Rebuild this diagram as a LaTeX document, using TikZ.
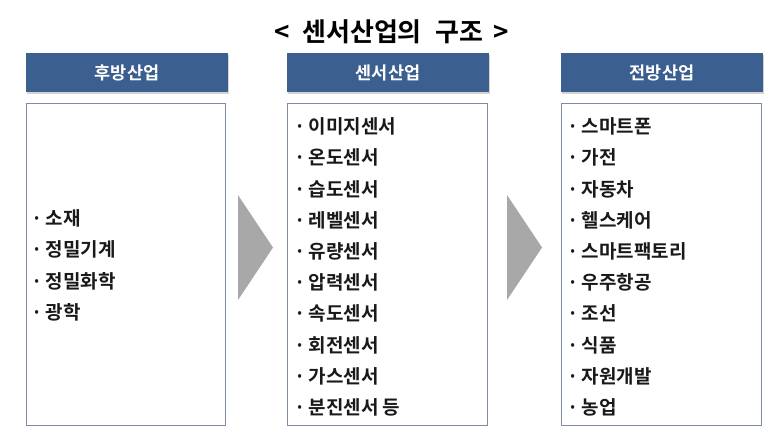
\documentclass[tikz,border=0pt]{standalone}
\usepackage{fontspec}
\setmainfont{Noto Sans CJK KR}[BoldFont={* Bold}]
\newfontfamily\krb{Noto Sans CJK KR Bold}
\usetikzlibrary{shadows}
\definecolor{hdr}{HTML}{3B5F8E}
\definecolor{bdr}{HTML}{7D8CA3}
\definecolor{arr}{HTML}{A8A8A8}
\tikzset{
  hdrbox/.style={fill=hdr, draw=none, minimum width=202pt, minimum height=39pt, inner sep=0pt,
    text=white, font=\krb\fontsize{17.5}{17.5}\selectfont, drop shadow={shadow xshift=1pt, shadow yshift=-1.5pt, opacity=0.35}},
  listbox/.style={draw=bdr, line width=0.8pt, fill=white, inner sep=0pt},
  item/.style={anchor=west, inner sep=0pt, font=\krb\fontsize{19}{19}\selectfont, text=black!90},
  arrowtri/.style={fill=arr, draw=none}
}
\begin{document}
\begin{tikzpicture}[x=1pt,y=-1pt]
\useasboundingbox (0,0) rectangle (780,440);
\node[font=\krb\fontsize{26}{26}\selectfont] (title) at (392,32) {<\hspace{12pt}센서산업의\hspace{14pt}구조\hspace{10pt}>};
% headers
\node[hdrbox] (h1) at (127,72.5) {후방산업};
\node[hdrbox] (h2) at (388,72.5) {센서산업};
\node[hdrbox] (h3) at (662,72.5) {전방산업};
% list boxes
\node[listbox, minimum width=199pt, minimum height=322pt] (b1) at (125.5,264) {};
\node[listbox, minimum width=200pt, minimum height=322pt] (b2) at (387,264) {};
\node[listbox, minimum width=200pt, minimum height=322pt] (b3) at (661,264) {};
% arrows
\coordinate (a1t) at (238,195); \coordinate (a1b) at (238,300); \coordinate (a1p) at (273,247.5);
\fill[arrowtri] (a1t) -- (a1p) -- (a1b) -- cycle;
\coordinate (a2t) at (507,195); \coordinate (a2b) at (507,300); \coordinate (a2p) at (542,247.5);
\fill[arrowtri] (a2t) -- (a2p) -- (a2b) -- cycle;
% left items
\foreach \t [count=\i] in {소재,정밀기계,정밀화학,광학}{
  \node[item] (l\i) at (31,{218+31.5*(\i-1)}) {·\,\t};
}
% middle items
\foreach \t [count=\i] in {이미지센서,온도센서,습도센서,레벨센서,유량센서,압력센서,속도센서,회전센서,가스센서,분진센서 등}{
  \node[item] (m\i) at (294,{126.5+31.2*(\i-1)}) {·\,\t};
}
% right items
\foreach \t [count=\i] in {스마트폰,가전,자동차,헬스케어,스마트팩토리,우주항공,조선,식품,자원개발,농업}{
  \node[item] (r\i) at (567,{126.5+31.2*(\i-1)}) {·\,\t};
}
\end{tikzpicture}
\end{document}
